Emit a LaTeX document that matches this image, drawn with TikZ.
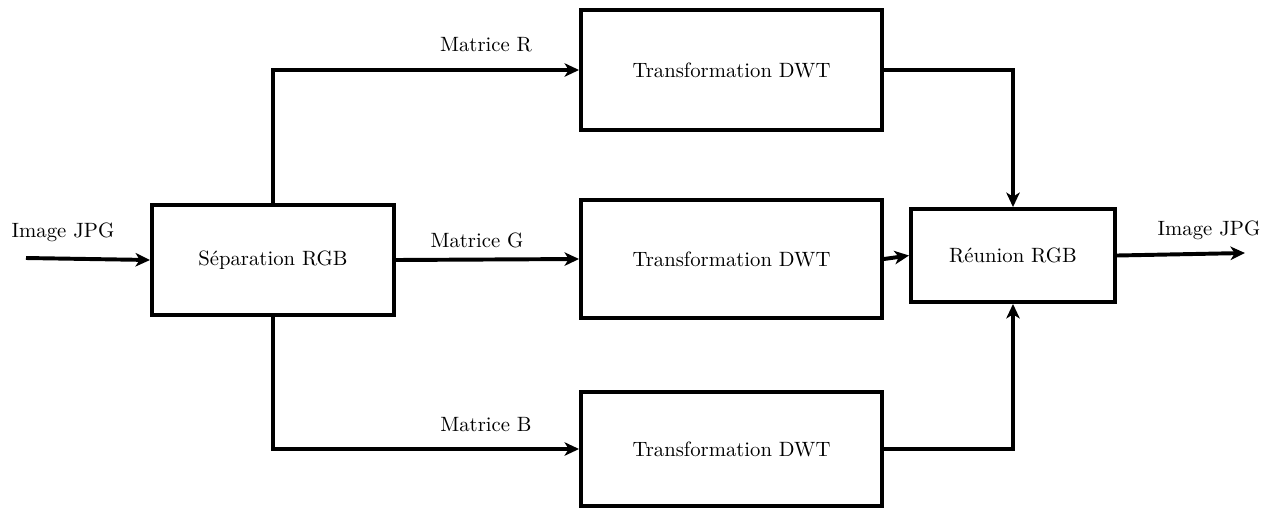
\documentclass[tikz,border=0pt]{standalone}
\usetikzlibrary{arrows.meta}
\begin{document}
\begin{tikzpicture}[x=0.4828pt,y=-0.4828pt,
  blk/.style={draw,line width=1.9pt,inner sep=0pt,font=\normalsize},
  conn/.style={line width=1.9pt,-{Stealth[length=7pt,width=6.5pt,inset=2pt]}},
  lbl/.style={font=\normalsize,inner sep=0pt}]
\useasboundingbox (0,0) rectangle (1272,508);
\node[blk,minimum width=242*0.4828pt,minimum height=110*0.4828pt] (sep) at (273,260) {Séparation RGB};
\node[blk,minimum width=301*0.4828pt,minimum height=120*0.4828pt] (dwt1) at (731.5,70) {Transformation DWT};
\node[blk,minimum width=301*0.4828pt,minimum height=118*0.4828pt] (dwt2) at (731.5,259) {Transformation DWT};
\node[blk,minimum width=301*0.4828pt,minimum height=114*0.4828pt] (dwt3) at (731.5,449) {Transformation DWT};
\node[blk,minimum width=204*0.4828pt,minimum height=93*0.4828pt] (reu) at (1013,255.5) {Réunion RGB};
\coordinate (in) at (26,258);
\coordinate (out) at (1245,253);
\draw[conn] (in) -- (sep.west);
\draw[conn] (sep.north) |- (dwt1.west);
\draw[conn] (sep.east) -- (dwt2.west);
\draw[conn] (sep.south) |- (dwt3.west);
\draw[conn] (dwt1.east) -| (reu.north);
\draw[conn] (dwt2.east) -- (reu.west);
\draw[conn] (dwt3.east) -| (reu.south);
\draw[conn] (reu.east) -- (out);
\node[lbl] (lin) at (63,232) {Image JPG};
\node[lbl] (lout) at (1209,230) {Image JPG};
\node[lbl] (lr) at (486,45) {Matrice R};
\node[lbl] (lg) at (477,240) {Matrice G};
\node[lbl] (lb) at (486,425) {Matrice B};
\end{tikzpicture}
\end{document}
